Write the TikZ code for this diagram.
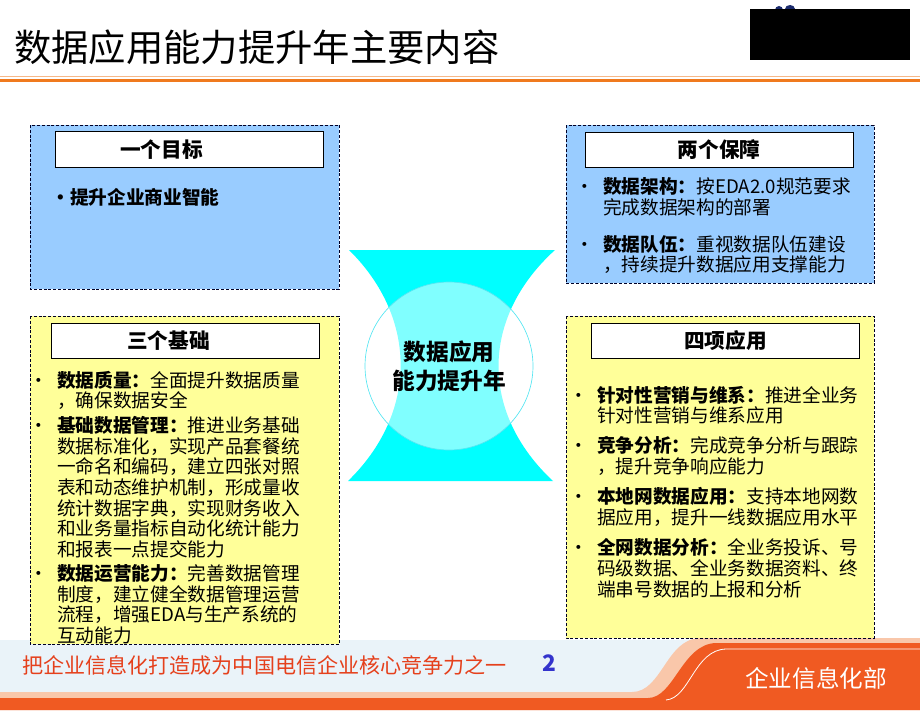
\documentclass[tikz,border=0pt]{standalone}
\usepackage{fontspec}
\setmainfont{Noto Sans CJK SC}
\usetikzlibrary{positioning}

\definecolor{paneblue}{HTML}{99CCFF}
\definecolor{paneyellow}{HTML}{FFFF99}
\definecolor{rulered}{HTML}{F07A1E}
\definecolor{rulelight}{HTML}{F7B888}
\definecolor{footbg}{HTML}{EAF3F9}
\definecolor{footpeach}{HTML}{F9C7AA}
\definecolor{footorange}{HTML}{F05A22}
\definecolor{slogan}{HTML}{E5401C}
\definecolor{pageblue}{HTML}{3333CC}
\definecolor{logonavy}{HTML}{1A2A6C}
\definecolor{hourcyan}{HTML}{00FFFF}
\definecolor{ringline}{HTML}{55E6F2}

\newcommand{\bul}{\llap{•\hspace{7pt}}}

\begin{document}
\begin{tikzpicture}[x=0.75pt,y=-0.75pt,node distance=4pt]
\tikzstyle{pane}=[draw=black!85!blue, line width=0.7pt, dash pattern=on 2.2pt off 1.4pt]
\tikzstyle{headbox}=[draw=black, fill=white, line width=0.7pt, inner sep=0pt, minimum width=201pt, minimum height=26.5pt, font=\fontsize{15.5}{18}\selectfont\bfseries]
\tikzstyle{item}=[inner sep=0pt, align=left, anchor=north west, font=\fontsize{14}{15.5}\selectfont]
\tikzstyle{ring}=[circle, draw=ringline, line width=0.5pt, fill=white, fill opacity=0.5, text opacity=1, minimum size=126pt, inner sep=0pt, align=center, font=\fontsize{17}{21.75}\selectfont\bfseries]

\useasboundingbox (0,0) rectangle (920,710);

\node[anchor=west, inner sep=0pt, font=\fontsize{28}{30}\selectfont] (title) at (14,47) {数据应用能力提升年主要内容};
\fill[logonavy] (779,10) circle (4);
\fill[logonavy] (790,9) ellipse (5 and 4);
\fill[black] (750,9) rectangle (910,60);
\fill[rulelight] (0,76) rectangle (920,77.3);
\fill[rulered] (0,78.8) rectangle (920,82);

\fill[footbg] (0,640) rectangle (920,700);
\fill[footpeach] (0,692) -- (632,692) .. controls (662,692) and (666,639) .. (700,638) -- (920,638) -- (920,710) -- (0,710) -- cycle;
\fill[footorange] (0,698) -- (648,698) .. controls (674,698) and (682,644) .. (716,643) -- (920,643) -- (920,710) -- (0,710) -- cycle;
\draw[white, line width=0.6pt] (666,700) .. controls (690,698) and (694,650) .. (726,649) -- (920,649);

\draw[pane, fill=paneblue] (30,125) rectangle (339,289);
\draw[pane, fill=paneblue] (566,125) rectangle (874,283);
\draw[pane, fill=paneyellow] (30,316) rectangle (339,644);
\draw[pane, fill=paneyellow] (566,316) rectangle (874,638);

\fill[hourcyan] (349,250) -- (555,250) .. controls (480,318) and (480,413) .. (553,481) -- (348,481) .. controls (418,413) and (418,318) .. (349,250) -- cycle;
\node[ring] (hub) at (449,366) {数据应用\\能力提升年};

\node[headbox] (goalhead) at (189,149.5) {一个目标\hspace*{2.67em}};
\node[headbox] (guardhead) at (719,150) {两个保障};
\node[headbox] (basehead) at (185.5,341) {三个基础\hspace*{1.65em}};
\node[headbox] (apphead) at (725.5,341) {四项应用};

\node[anchor=west, inner sep=0pt, font=\fontsize{14}{15.5}\selectfont\bfseries] (goal1) at (70,197) {\llap{•}提升企业商业智能};

\node[item] (guard1) at (603,177.5) {\bul\textbf{数据架构：}按EDA2.0规范要求\\完成数据架构的部署};
\node[item, below=14pt of guard1.south west, anchor=north west] (guard2) {\bul\textbf{数据队伍：}重视数据队伍建设\\，持续提升数据应用支撑能力};

\node[item] (base1) at (57,370.7) {\bul\textbf{数据质量：}全面提升数据质量\\，确保数据安全};
\node[item, below=4.5pt of base1.south west, anchor=north west] (base2) {\bul\textbf{基础数据管理：}推进业务基础\\数据标准化，实现产品套餐统\\一命名和编码，建立四张对照\\表和动态维护机制，形成量收\\统计数据字典，实现财务收入\\和业务量指标自动化统计能力\\和报表一点提交能力};
\node[item, below=4.5pt of base2.south west, anchor=north west] (base3) {\bul\textbf{数据运营能力：}完善数据管理\\制度，建立健全数据管理运营\\流程，增强EDA与生产系统的\\互动能力};

\node[item] (app1) at (597,385.7) {\bul\textbf{针对性营销与维系：}推进全业务\\针对性营销与维系应用};
\node[item, below=8.75pt of app1.south west, anchor=north west] (app2) {\bul\textbf{竞争分析：}完成竞争分析与跟踪\\，提升竞争响应能力};
\node[item, below=8.75pt of app2.south west, anchor=north west] (app3) {\bul\textbf{本地网数据应用：}支持本地网数\\据应用，提升一线数据应用水平};
\node[item, below=8.75pt of app3.south west, anchor=north west] (app4) {\bul\textbf{全网数据分析：}全业务投诉、号\\码级数据、全业务数据资料、终\\端串号数据的上报和分析};

\node[anchor=west, inner sep=0pt, text=slogan, font=\fontsize{15.8}{18}\selectfont] (slogan) at (22,665) {把企业信息化打造成为中国电信企业核心竞争力之一};
\node[inner sep=0pt, text=pageblue, font=\fontsize{17}{20}\selectfont\bfseries] (page) at (549,663) {2};
\node[inner sep=0pt, text=white, font=\fontsize{17.7}{20}\selectfont] (dept) at (816,678) {企业信息化部};
\end{tikzpicture}
\end{document}
